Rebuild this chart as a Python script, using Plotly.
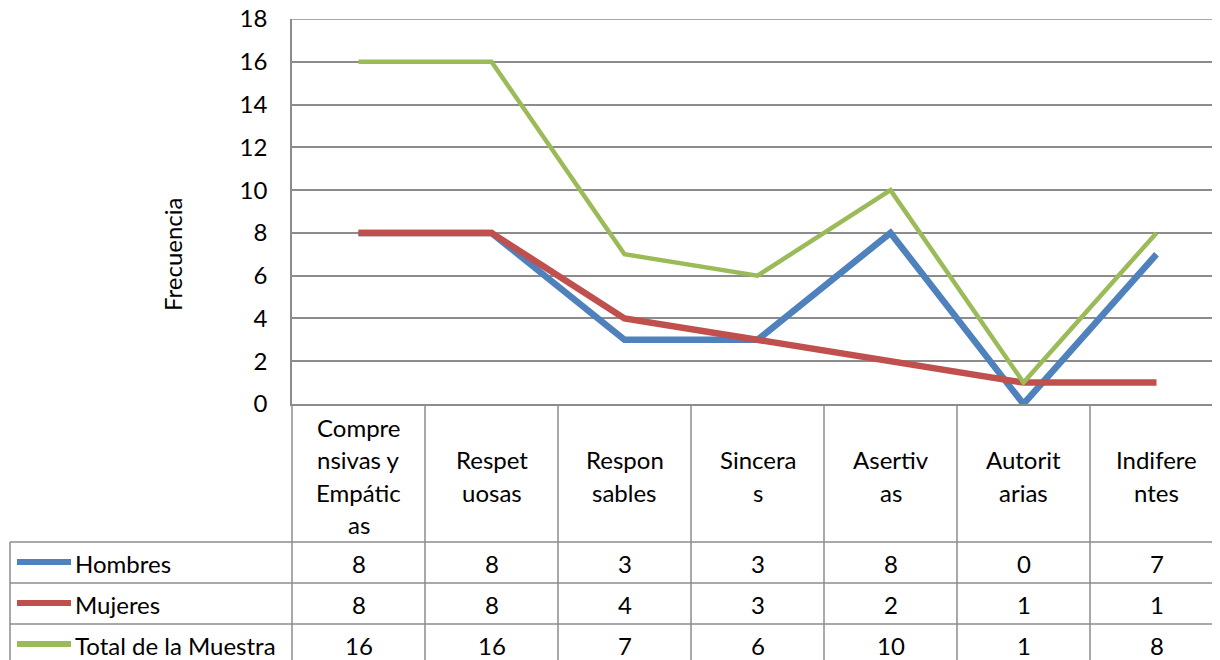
import plotly.graph_objects as go

categories = ["Comprensivas y Empáticas", "Respetuosas", "Responsables", "Sinceras",
              "Asertivas", "Autoritarias", "Indiferentes"]
# wrapped the way the category cells show them
category_lines = [["Compre", "nsivas y", "Empátic", "as"], ["Respet", "uosas"],
                  ["Respon", "sables"], ["Sincera", "s"], ["Asertiv", "as"],
                  ["Autorit", "arias"], ["Indifere", "ntes"]]
hombres = [8, 8, 3, 3, 8, 0, 7]
mujeres = [8, 8, 4, 3, 2, 1, 1]
total = [16, 16, 7, 6, 10, 1, 8]
series_names = ["Hombres", "Mujeres", "Total de la Muestra"]
series_values = [hombres, mujeres, total]
y_ticks = [0, 2, 4, 6, 8, 10, 12, 14, 16, 18]
colors = ["#4F81BD", "#C0504D", "#9BBB59"]
widths = [6.5, 6.5, 4.5]

# page body adds an 8px margin, so the figure is sized to fit the window
OFF = 8
W, H = 1220 - OFF, 660 - OFF
# plot area in window pixels
PL, PT, PB = 292, 19, 404
L, T, B = PL - OFF, PT - OFF, H - (PB - OFF)
PW, PH = W - L, H - T - B
COL = 133
FONT = "Lato"
FS = 24
GRID = "#8c8c8c"


def px(x):
    # window pixel x -> paper
    return (x - PL) / PW


def py(y):
    # window pixel y -> paper
    return (PB - y) / PH


fig = go.Figure()
xs = list(range(len(categories)))
for name, vals, c, w in zip(series_names, series_values, colors, widths):
    fig.add_trace(go.Scatter(x=xs, y=vals, mode="lines", name=name,
                             line=dict(color=c, width=w), showlegend=False))

shapes = []
annotations = []
col_edges = [PL + COL * i for i in range(len(categories) + 1)]

# top gridline (plotly drops the one at the range end)
shapes.append(dict(type="line", xref="paper", yref="y", x0=0, x1=1, y0=y_ticks[-1],
                   y1=y_ticks[-1], layer="below", line=dict(color=GRID, width=1.5)))

# table grid
for xe in col_edges:
    shapes.append(dict(type="line", xref="paper", yref="paper", x0=px(xe), x1=px(xe),
                       y0=py(PB), y1=py(670), line=dict(color=GRID, width=1.5)))
shapes.append(dict(type="line", xref="paper", yref="paper", x0=px(10), x1=px(10),
                   y0=py(542), y1=py(670), line=dict(color=GRID, width=1.5)))
for yr in [542, 583, 624]:
    shapes.append(dict(type="line", xref="paper", yref="paper", x0=px(10), x1=px(1230),
                       y0=py(yr), y1=py(yr), line=dict(color=GRID, width=1.5)))

# category headers
for i, lines in enumerate(category_lines):
    cx = col_edges[i] + COL / 2
    n = len(lines)
    for k, t in enumerate(lines):
        yc = 476 + (k - (n - 1) / 2) * 32.5
        annotations.append(dict(text=t, xref="paper", yref="paper", x=px(cx), y=py(yc),
                                xanchor="center", yanchor="middle", showarrow=False,
                                font=dict(family=FONT, size=FS, color="#000")))

# data rows with legend keys
row_y = [563, 604, 645]
for r, (name, vals, c) in enumerate(zip(series_names, series_values, colors)):
    yc = row_y[r]
    shapes.append(dict(type="line", xref="paper", yref="paper", x0=px(17), x1=px(71),
                       y0=py(yc - 1), y1=py(yc - 1), line=dict(color=c, width=6)))
    annotations.append(dict(text=name, xref="paper", yref="paper", x=px(73), y=py(yc),
                            xanchor="left", yanchor="middle", showarrow=False,
                            font=dict(family=FONT, size=FS, color="#000")))
    for i, v in enumerate(vals):
        cx = col_edges[i] + COL / 2
        annotations.append(dict(text=str(v), xref="paper", yref="paper", x=px(cx), y=py(yc),
                                xanchor="center", yanchor="middle", showarrow=False,
                                font=dict(family=FONT, size=FS, color="#000")))

annotations.append(dict(text="Frecuencia", xref="paper", yref="paper", x=px(172), y=py(254),
                        textangle=-90, xanchor="center", yanchor="middle", showarrow=False,
                        font=dict(family=FONT, size=FS, color="#000")))

fig.update_layout(
    width=W, height=H,
    margin=dict(l=L, r=0, t=T, b=B, autoexpand=False),
    paper_bgcolor="white", plot_bgcolor="white",
    font=dict(family=FONT, size=FS, color="#000"),
    xaxis=dict(range=[-0.5, -0.5 + PW / COL], showticklabels=False, showgrid=False,
               zeroline=False, showline=True, linecolor=GRID, linewidth=1.5, ticks=""),
    yaxis=dict(range=[0, 18], tickmode="array", tickvals=y_ticks,
               ticktext=[str(v) for v in y_ticks], ticklabeloverflow="allow",
               showgrid=True, gridcolor=GRID, gridwidth=1.5,
               zeroline=False, showline=True, linecolor=GRID, linewidth=1.5,
               ticks="", ticklabelstandoff=18, tickfont=dict(family=FONT, size=FS)),
    shapes=shapes,
    annotations=annotations,
)

fig.write_html("out.html")
